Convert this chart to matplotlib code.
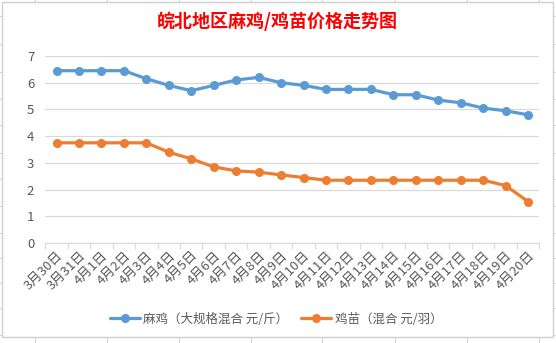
import matplotlib
matplotlib.use("Agg")
import matplotlib.pyplot as plt
from matplotlib.lines import Line2D
from matplotlib.patches import Rectangle

plt.rcParams['font.family'] = ['Noto Sans CJK SC', 'DejaVu Sans']

title = "皖北地区麻鸡/鸡苗价格走势图"
dates = ["3月30日", "3月31日", "4月1日", "4月2日", "4月3日", "4月4日", "4月5日",
         "4月6日", "4月7日", "4月8日", "4月9日", "4月10日", "4月11日", "4月12日",
         "4月13日", "4月14日", "4月15日", "4月16日", "4月17日", "4月18日",
         "4月19日", "4月20日"]
chicken = [6.45, 6.45, 6.45, 6.45, 6.15, 5.9, 5.7, 5.9, 6.1, 6.2, 6.0, 5.9,
           5.75, 5.75, 5.75, 5.55, 5.55, 5.35, 5.25, 5.05, 4.95, 4.8]
chick = [3.75, 3.75, 3.75, 3.75, 3.75, 3.4, 3.15, 2.85, 2.7, 2.65, 2.55, 2.45,
         2.35, 2.35, 2.35, 2.35, 2.35, 2.35, 2.35, 2.35, 2.15, 1.55]
series_names = ["麻鸡（大规格混合 元/斤）", "鸡苗（混合 元/羽）"]
yticks = [0, 1, 2, 3, 4, 5, 6, 7]

W, H = 556, 343
fig = plt.figure(figsize=(W / 100, H / 100), dpi=100)
fig.patch.set_facecolor('white')

# spreadsheet cell lines in background
grid_c = '#D4D4D4'
for xc in [34.5, 106.5, 178.5, 250.5, 322.5, 394.5, 466.5, 538.5]:
    fig.add_artist(Line2D([xc / W, xc / W], [0, 1], color=grid_c, lw=0.8, zorder=0))
for yr in [16, 44, 72, 99, 125, 153, 179, 206, 233, 258, 283, 308, 335]:
    fig.add_artist(Line2D([0, 1], [1 - yr / H, 1 - yr / H], color=grid_c, lw=0.8, zorder=0))

# chart area
fig.add_artist(Rectangle((2 / W, 1 - 337 / H), (553 - 2) / W, (337 - 2) / H,
                         facecolor='white', edgecolor='#D0D0D0', lw=1.0, zorder=1))

ax = fig.add_axes([45.3 / W, 1 - 243 / H, (539.3 - 45.3) / W, (243 - 56) / H], zorder=2)
ax.patch.set_alpha(0)

x = list(range(len(dates)))
blue = '#5B9BD5'
orange = '#ED7D31'
ax.plot(x, chicken, color=blue, lw=2.3, marker='o', ms=5.5, label=series_names[0],
        solid_capstyle='round', zorder=3)
ax.plot(x, chick, color=orange, lw=2.3, marker='o', ms=5.5, label=series_names[1],
        solid_capstyle='round', zorder=3)

ax.set_xlim(-0.5, len(dates) - 0.5)
ax.set_ylim(0, 7)
ax.set_yticks(yticks)
ax.set_yticklabels([str(v) for v in yticks])
ax.grid(axis='y', color='#D9D9D9', lw=0.9)
ax.set_axisbelow(True)
for s in ['top', 'right', 'left']:
    ax.spines[s].set_visible(False)
ax.spines['bottom'].set_color('#D9D9D9')
ax.spines['bottom'].set_linewidth(0.9)

ax.set_xticks([i - 0.5 for i in range(len(dates) + 1)], minor=False)
ax.set_xticklabels([])
ax.set_xticks(x, minor=True)
ax.set_xticklabels(dates, minor=True, rotation=45, ha='right', va='top',
                   rotation_mode='anchor', fontsize=9.5, color='#595959')
ax.tick_params(axis='x', which='major', length=4, color='#D9D9D9', width=0.9)
ax.tick_params(axis='x', which='minor', length=0, pad=4)
ax.tick_params(axis='y', length=0, pad=8, labelsize=9.5, labelcolor='#595959')

fig.text(277 / W, 1 - 21 / H, title, color='#FF0000', fontsize=13, fontweight='bold',
         ha='center', va='center')

leg = fig.legend(loc='center', bbox_to_anchor=(276 / W, 1 - 319 / H), ncol=2,
                 frameon=False, fontsize=9, handlelength=2.4, columnspacing=1.0,
                 handletextpad=0.3)
for t in leg.get_texts():
    t.set_color('#595959')

fig.savefig('out.png', dpi=100)
